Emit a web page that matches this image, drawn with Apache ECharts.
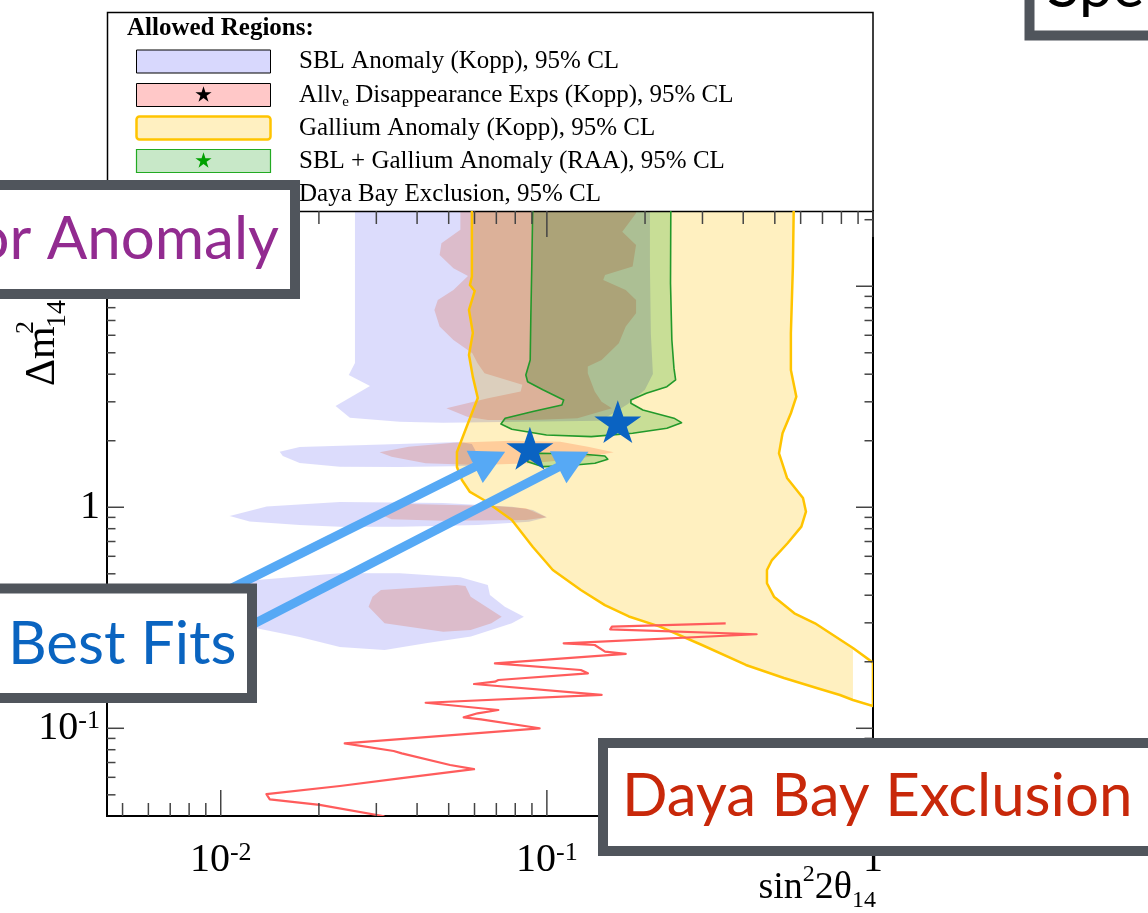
<!DOCTYPE html>
<html><head><meta charset="utf-8">
<script src="https://cdn.jsdelivr.net/npm/echarts@6/dist/echarts.min.js"></script>
<style>html,body{margin:0;padding:0;background:#fff}#c{width:1148px;height:913px}</style>
</head><body><div id="c"></div><script>
// ---------- axis ranges & ticks ----------
const X_MIN = 0.00448, X_MAX = 1.0, Y_MIN = 0.0401, Y_MAX = 21.9;
const xMajorTicks = [0.01, 0.1, 1];
const xMinorTicks = [0.005,0.006,0.007,0.008,0.009,0.02,0.03,0.04,0.05,0.06,0.07,0.08,0.09,0.2,0.3,0.4,0.5,0.6,0.7,0.8,0.9];
const yMajorTicks = [0.1, 1, 10];
const yMinorTicks = [0.05,0.06,0.07,0.08,0.09,0.2,0.3,0.4,0.5,0.6,0.7,0.8,0.9,2,3,4,5,6,7,8,9,20];

// ---------- SBL Anomaly (Kopp), 95% CL : [sin^2 2theta, dm^2] ----------
const sblA = [[0.0258,25],[0.0258,4.50],[0.0247,3.97],[0.0287,3.54],[0.0225,2.87],[0.0249,2.54],[0.0354,2.44],[0.0480,2.41],[0.1454,2.46],[0.1583,2.645],[0.1772,2.93],[0.1998,3.40],[0.2114,4.01],[0.2084,6.08],[0.207,12.4],[0.207,25]];
const sblB = [[0.01517,1.785],[0.01747,1.874],[0.0354,1.934],[0.0541,1.975],[0.0589,1.934],[0.0614,1.724],[0.0581,1.538],[0.0354,1.522],[0.0232,1.527],[0.01747,1.586],[0.0155,1.707]];
const sblC = [[0.01066,0.913],[0.01384,1.008],[0.0232,1.057],[0.0480,1.046],[0.0781,1.006],[0.0906,0.972],[0.1,0.901],[0.0881,0.861],[0.0614,0.832],[0.0354,0.817],[0.0232,0.817],[0.01747,0.832],[0.01227,0.863]];
const sblD = [[0.00959,0.369],[0.01144,0.459],[0.01289,0.469],[0.0232,0.503],[0.0354,0.503],[0.0543,0.482],[0.0659,0.445],[0.0669,0.401],[0.0743,0.355],[0.0850,0.320],[0.0781,0.2986],[0.0585,0.260],[0.0425,0.2424],[0.0318,0.2261],[0.0232,0.2333],[0.01747,0.2589],[0.01289,0.2836],[0.01066,0.319]];

// ---------- All nu_e Disappearance Exps (Kopp), 95% CL ----------
const disA = [[0.0543,25],[0.0543,18.0],[0.0475,15.65],[0.0469,13.86],[0.0517,12.06],[0.0573,11.13],[0.0517,9.62],[0.0463,8.67],[0.0452,7.81],[0.0469,6.57],[0.0517,5.71],[0.0591,4.98],[0.0613,4.48],[0.0644,4.04],[0.0841,3.58],[0.0831,3.34],[0.0660,3.11],[0.0492,2.805],[0.0570,2.57],[0.0660,2.48],[0.0904,2.48],[0.1241,2.53],[0.1583,2.805],[0.1472,3.005],[0.1402,3.34],[0.1335,4.04],[0.1335,4.33],[0.1472,4.64],[0.1662,5.52],[0.1745,6.57],[0.1877,7.55],[0.1877,8.67],[0.1745,9.62],[0.1489,10.68],[0.1508,11.25],[0.1832,12.27],[0.1877,15.38],[0.1703,17.66],[0.1877,21.4],[0.1877,25]];
const disB = [[0.0307,1.774],[0.0377,1.880],[0.0517,1.960],[0.0781,2.001],[0.1099,1.980],[0.1336,1.880],[0.1603,1.774],[0.1271,1.666],[0.0904,1.581],[0.0613,1.554],[0.0425,1.581],[0.0334,1.694]];
const disC = [[0.0318,0.990],[0.0377,1.035],[0.0693,1.014],[0.0862,0.990],[0.0997,0.901],[0.0862,0.876],[0.0481,0.870],[0.0334,0.882],[0.0303,0.939]];
const disD = [[0.0292,0.394],[0.0310,0.422],[0.0530,0.445],[0.0563,0.440],[0.0584,0.394],[0.0727,0.320],[0.0676,0.2986],[0.0584,0.2785],[0.0481,0.2736],[0.0318,0.2986],[0.0284,0.355]];

// ---------- Gallium Anomaly (Kopp), 95% CL ----------
const galliumLeft = [[0.0589,25],[0.0589,11.07],[0.0581,10.14],[0.0601,9.52],[0.0577,7.81],[0.0593,6.15],[0.0577,4.89],[0.0593,3.89],[0.0614,3.12],[0.0568,2.32],[0.0530,1.779],[0.0530,1.522],[0.0549,1.329],[0.0581,1.173],[0.0641,1.079],[0.0781,0.876],[0.0906,0.661],[0.1043,0.520],[0.1271,0.4223],[0.1506,0.361],[0.1784,0.3205],[0.2221,0.2885],[0.2989,0.2381],[0.4077,0.1934],[0.5333,0.1689],[0.6876,0.1506],[0.792,0.1415],[0.868,0.1343],[1.0,0.1262]];
const galliumRight = [[1.0,0.1981],[0.868,0.2309],[0.754,0.2644],[0.664,0.2986],[0.574,0.3314],[0.497,0.3939],[0.473,0.453],[0.473,0.520],[0.490,0.577],[0.547,0.6874],[0.603,0.817],[0.623,0.955],[0.610,1.102],[0.545,1.357],[0.515,1.755],[0.528,2.162],[0.560,2.663],[0.582,3.166],[0.560,4.18],[0.560,6.13],[0.568,12.27],[0.572,25]];

// ---------- SBL + Gallium Anomaly (RAA), 95% CL ----------
const raaMain = [[0.0906,25],[0.0899,12.27],[0.0893,7.29],[0.0889,4.64],[0.0862,3.97],[0.0873,3.70],[0.0972,3.40],[0.1126,3.06],[0.1112,2.90],[0.0906,2.71],[0.0745,2.53],[0.0723,2.38],[0.0781,2.254],[0.0997,2.124],[0.1368,2.087],[0.1832,2.162],[0.2334,2.278],[0.2588,2.414],[0.2453,2.53],[0.197,2.756],[0.181,2.955],[0.181,3.06],[0.2019,3.28],[0.2334,3.51],[0.2482,3.77],[0.2453,4.26],[0.2417,5.71],[0.2394,10.3],[0.240,25]];
const raaSmall = [[0.0873,1.694],[0.0950,1.755],[0.1271,1.743],[0.1506,1.707],[0.1538,1.649],[0.1404,1.581],[0.1126,1.538],[0.0972,1.527],[0.0873,1.608]];

// ---------- Daya Bay Exclusion, 95% CL ----------
const dayaBay = [[0.3534,0.2986],[0.1583,0.2883],[0.1564,0.2805],[0.4397,0.2663],[0.1126,0.2424],[0.1402,0.2381],[0.1508,0.2221],[0.1745,0.2169],[0.0693,0.1968],[0.1271,0.1835],[0.1336,0.1773],[0.0710,0.1654],[0.0693,0.1625],[0.0598,0.1586],[0.1472,0.1415],[0.0425,0.1305],[0.0710,0.1210],[0.0613,0.1169],[0.0556,0.1121],[0.0628,0.1098],[0.0950,0.100],[0.0240,0.0855],[0.0339,0.0789],[0.0359,0.0770],[0.0505,0.0682],[0.0598,0.0653],[0.0354,0.0594],[0.0232,0.0548],[0.01381,0.0504],[0.01414,0.0477],[0.0201,0.0450],[0.0314,0.0401],[0.0342,0.0377]];

// ---------- best fits & annotation arrows ----------
const bestFitX = [0.0887, 0.165];
const bestFitY = [1.849, 2.44];
const arrowFrom = [[0.00862, 0.365], [0.00862, 0.222]];
const arrowTo = [[0.0745, 1.785], [0.1341, 1.785]];

// ---------- texts ----------
const legendTitle = 'Allowed Regions:';
const legendLabels = [
  'SBL Anomaly (Kopp), 95% CL',
  '{n|All\u03bd}{e|e}{n| Disappearance Exps (Kopp), 95% CL}',
  'Gallium Anomaly (Kopp), 95% CL',
  'SBL + Gallium Anomaly (RAA), 95% CL',
  'Daya Bay Exclusion, 95% CL'
];
const calloutTexts = ['Reactor Anomaly', 'Best Fits', 'Daya Bay Exclusion', 'Spectrum'];

// ---------- rendering ----------
const STAR = 'M50,0 L61.23,34.55 L97.55,34.55 L68.17,55.9 L79.39,90.45 L50,69.1 L20.61,90.45 L31.83,55.9 L2.45,34.55 L38.77,34.55 Z';
function starPoints(cx, cy, R) {
  const pts = [];
  for (let k = 0; k < 10; k++) {
    const r = k % 2 ? R * 0.382 : R;
    const a = -Math.PI / 2 + k * Math.PI / 5;
    pts.push([cx + r * Math.cos(a), cy + r * Math.sin(a) + R * 0.1]);
  }
  return pts;
}
const SERIF = '"Liberation Serif", "Times New Roman", serif';
const SANS = 'Lato, "Open Sans", sans-serif';
const C_SBL = '#dcdcfc', C_DIS = '#ffdace', C_GA = '#fff0c0', C_RAA = '#c8ecc8';
const FILL_COLORS = new Set([C_SBL, C_DIS, C_GA, C_RAA]);

function fillSeries(pts, color) {
  return { type: 'custom', coordinateSystem: 'cartesian2d', clip: true, silent: true, z: 2,
    data: [[0.1, 1]],
    renderItem: (p, api) => ({ type: 'polygon', name: 'regionFill', shape: { points: pts.map(q => api.coord(q)) },
      style: { fill: color, stroke: null, blend: 'multiply' } }) };
}
function lineSeries(pts, color, w, closed) {
  return { type: 'custom', coordinateSystem: 'cartesian2d', clip: true, silent: true, z: 3,
    data: [[0.1, 1]],
    renderItem: (p, api) => ({ type: closed ? 'polygon' : 'polyline', shape: { points: pts.map(q => api.coord(q)) },
      style: { fill: null, stroke: color, lineWidth: w, lineJoin: 'round' } }) };
}
function tickSeries(dim, values, major) {
  return { type: 'custom', coordinateSystem: 'cartesian2d', clip: false, silent: true, z: 6,
    data: values.map(v => dim === 'x' ? [v, Y_MIN] : [X_MIN, v]),
    renderItem: (p, api) => {
      const st = { stroke: '#444', lineWidth: 1.5 };
      if (dim === 'x') {
        const v = api.value(0), b = api.coord([v, Y_MIN]), t = api.coord([v, Y_MAX]);
        const L = major ? 26 : 13;
        return { type: 'group', children: [
          { type: 'line', shape: { x1: b[0], y1: b[1], x2: b[0], y2: b[1] - L }, style: st },
          { type: 'line', shape: { x1: t[0], y1: t[1], x2: t[0], y2: t[1] + L }, style: st } ] };
      } else {
        const v = api.value(1), l = api.coord([X_MIN, v]), r = api.coord([X_MAX, v]);
        const L = major ? 17 : 8.5;
        return { type: 'group', children: [
          { type: 'line', shape: { x1: l[0], y1: l[1], x2: l[0] + L, y2: l[1] }, style: st },
          { type: 'line', shape: { x1: r[0], y1: r[1], x2: r[0] - L, y2: r[1] }, style: st } ] };
      }
    } };
}
function powLabel(v) {
  const e = Math.log10(v), r = Math.round(e);
  if (Math.abs(e - r) > 1e-6) return '';
  if (r === 0) return '{b|1}';
  if (r === 1) return '{b|10}';
  return '{b|10}{s|' + r + '}';
}
const labelRich = {
  b: { fontFamily: SERIF, fontSize: 40, lineHeight: 40, color: '#000' },
  s: { fontFamily: SERIF, fontSize: 26, lineHeight: 18, verticalAlign: 'top', color: '#000' }
};

const galliumFill = galliumLeft.slice(0, -1).concat(galliumRight.slice(1));

const series = [
  fillSeries(galliumFill, C_GA),
  fillSeries(raaMain, C_RAA),
  fillSeries(raaSmall, C_RAA),
  fillSeries(sblA, C_SBL), fillSeries(sblB, C_SBL), fillSeries(sblC, C_SBL), fillSeries(sblD, C_SBL),
  fillSeries(disA, C_DIS), fillSeries(disB, C_DIS), fillSeries(disC, C_DIS), fillSeries(disD, C_DIS),
  lineSeries(galliumLeft.concat(galliumRight), '#ffc400', 2.5, false),
  lineSeries(raaMain, '#22992a', 1.6, false),
  lineSeries(raaSmall, '#22992a', 1.6, true),
  lineSeries(dayaBay, '#ff5c5c', 2.2, false),
  { type: 'custom', coordinateSystem: 'cartesian2d', clip: false, silent: true, z: 4,
    data: arrowFrom.map((f, i) => [f[0], f[1], arrowTo[i][0], arrowTo[i][1]]),
    encode: { x: [0, 2], y: [1, 3] },
    renderItem: (p, api) => {
      const a = api.coord([api.value(0), api.value(1)]), b = api.coord([api.value(2), api.value(3)]);
      const dx = b[0] - a[0], dy = b[1] - a[1], L = Math.hypot(dx, dy), ux = dx / L, uy = dy / L;
      const hl = 34, hw = 18, bx = b[0] - ux * hl, by = b[1] - uy * hl;
      return { type: 'group', children: [
        { type: 'line', shape: { x1: a[0], y1: a[1], x2: bx + ux * 3, y2: by + uy * 3 }, style: { stroke: '#56a9f5', lineWidth: 9 } },
        { type: 'polygon', shape: { points: [[b[0], b[1]], [bx - uy * hw, by + ux * hw], [bx + uy * hw, by - ux * hw]] }, style: { fill: '#56a9f5' } } ] };
    } },
  { type: 'scatter', z: 5, silent: true, symbol: 'path://' + STAR, symbolKeepAspect: true, symbolSize: [47, 45],
    itemStyle: { color: '#0a63c2', opacity: 1 }, data: bestFitX.map((x, i) => [x, bestFitY[i]]) },
  tickSeries('x', xMajorTicks, true), tickSeries('x', xMinorTicks, false),
  tickSeries('y', yMajorTicks, true), tickSeries('y', yMinorTicks, false)
];

// ---------- graphic: legend, titles, callouts ----------
const G = [];
G.push({ type: 'rect', z: 1, shape: { x: 107.5, y: 12.5, width: 765.5, height: 199 }, style: { fill: '#fff', stroke: '#000', lineWidth: 1.5 } });
G.push({ type: 'text', z: 2, x: 127, y: 29, style: { text: legendTitle, font: 'bold 25px ' + SERIF, fill: '#000', verticalAlign: 'middle', textVerticalAlign: 'middle' } });
const rowY = [61.5, 95, 128, 161, 194];
const sw = [
  { fill: '#d8d8fd', stroke: '#000', lw: 1 },
  { fill: '#ffc8c8', stroke: '#000', lw: 1, star: '#000' },
  { fill: '#fff0c1', stroke: '#ffc400', lw: 2.5 },
  { fill: '#c8e8c8', stroke: '#22aa22', lw: 1.2, star: '#00a000' },
  { line: '#ff5c5c' }
];
sw.forEach((s, i) => {
  const y = rowY[i];
  if (s.line) {
    G.push({ type: 'line', z: 2, shape: { x1: 136, y1: y, x2: 271, y2: y }, style: { stroke: s.line, lineWidth: 2 } });
  } else {
    G.push({ type: 'rect', z: 2, shape: { x: 136.5, y: y - 11.5, width: 134, height: 23, r: s.lw > 2 ? 3 : 0 }, style: { fill: s.fill, stroke: s.stroke, lineWidth: s.lw } });
    if (s.star) G.push({ type: 'polygon', z: 3, shape: { points: starPoints(203.5, y - 1, 8.5) }, style: { fill: s.star } });
  }
  G.push({ type: 'text', z: 2, x: 299, y: y, style: {
    text: legendLabels[i], font: '25px ' + SERIF, fill: '#000', verticalAlign: 'middle', textVerticalAlign: 'middle',
    rich: { n: { fontFamily: SERIF, fontSize: 25, lineHeight: 30 }, e: { fontFamily: SERIF, fontSize: 15, lineHeight: 13, verticalAlign: 'bottom' } } } });
});
// y-axis title
G.push({ type: 'text', z: 5, x: 43, y: 386, rotation: Math.PI / 2, style: { text: '\u0394m', font: '42px ' + SERIF, fill: '#000', align: 'left', textAlign: 'left', verticalAlign: 'middle', textVerticalAlign: 'middle' } });
G.push({ type: 'text', z: 5, x: 26, y: 334, rotation: Math.PI / 2, style: { text: '2', font: '26px ' + SERIF, fill: '#000', align: 'left', textAlign: 'left', verticalAlign: 'middle', textVerticalAlign: 'middle' } });
G.push({ type: 'text', z: 5, x: 58, y: 328, rotation: Math.PI / 2, style: { text: '14', font: '28px ' + SERIF, fill: '#000', align: 'left', textAlign: 'left', verticalAlign: 'middle', textVerticalAlign: 'middle' } });
// x-axis title
G.push({ type: 'text', z: 5, x: 876, y: 888, style: {
  text: '{a|sin}{p|2}{a|2\u03b8}{d|14}', align: 'right', textAlign: 'right', verticalAlign: 'middle', textVerticalAlign: 'middle',
  rich: { a: { fontFamily: SERIF, fontSize: 38, lineHeight: 50, color: '#000' },
          p: { fontFamily: SERIF, fontSize: 24, lineHeight: 36, verticalAlign: 'top', color: '#000' },
          d: { fontFamily: SERIF, fontSize: 24, lineHeight: 14, verticalAlign: 'bottom', color: '#000' } } } });
// callout boxes
function box(x, y, w, h) { return { type: 'rect', z: 100, shape: { x: x, y: y, width: w, height: h }, style: { fill: '#fff', stroke: '#50555c', lineWidth: 10 } }; }
function calloutText(t, x, y, color, align) { return { type: 'text', z: 101, x: x, y: y, style: { text: t, font: '60px ' + SANS, fill: color, align: align, textAlign: align, verticalAlign: 'middle', textVerticalAlign: 'middle' } }; }
G.push(box(-30, 185, 325, 109));
G.push(calloutText(calloutTexts[0], 279, 240, '#922b90', 'right'));
G.push(box(-30, 588.5, 282, 109.5));
G.push(calloutText(calloutTexts[1], 8, 645, '#0a64c0', 'left'));
G.push(box(603, 743, 600, 108));
G.push(calloutText(calloutTexts[2], 622, 797, '#c8280a', 'left'));
G.push(box(1029.5, -40, 200, 75.5));
G.push(calloutText(calloutTexts[3], 1047, -12, '#000', 'left'));

const option = {
  backgroundColor: '#ffffff',
  animation: false,
  grid: { left: 107, right: 275, top: 211, bottom: 97, show: true, borderColor: '#000', borderWidth: 2, backgroundColor: 'transparent', containLabel: false, outerBoundsMode: 'none' },
  xAxis: { type: 'log', logBase: 10, min: X_MIN, max: X_MAX,
    axisLine: { show: false }, axisTick: { show: false }, splitLine: { show: false }, minorTick: { show: false },
    axisLabel: { margin: 24, formatter: powLabel, rich: labelRich, hideOverlap: false, interval: 0 } },
  yAxis: { type: 'log', logBase: 10, min: Y_MIN, max: Y_MAX,
    axisLine: { show: false }, axisTick: { show: false }, splitLine: { show: false }, minorTick: { show: false },
    axisLabel: { margin: 7, formatter: powLabel, rich: labelRich, hideOverlap: false, interval: 0 } },
  series: series,
  graphic: { elements: G }
};
const chart = echarts.init(document.getElementById('c'), null, { renderer: 'canvas', width: 1148, height: 913 });
chart.setOption(option);
// overlapping transparent contours: multiply-blend the region fills
try {
  const zr = chart.getZr();
  const list = zr.storage.getDisplayList(true);
  list.forEach(el => {
    if (el && el.type === 'polygon' && el.style && FILL_COLORS.has(el.style.fill)) {
      el.style.blend = 'multiply';
      el.markRedraw();
    }
  });
  zr.refreshImmediately();
} catch (err) { console.log(err); }
</script></body></html>
